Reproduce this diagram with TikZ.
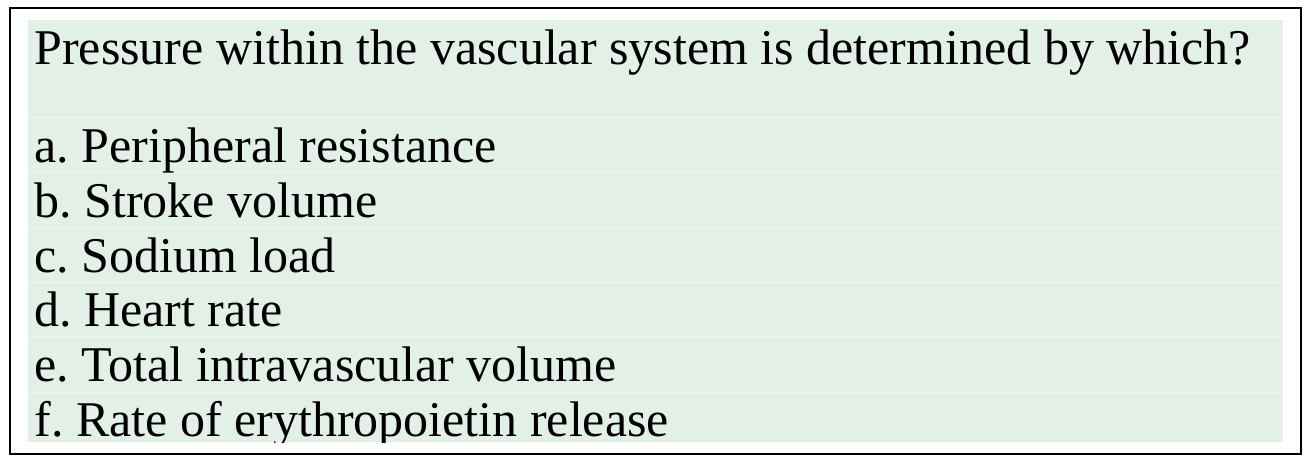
\documentclass[tikz,border=0pt]{standalone}
\usepackage{fontspec}
\setmainfont{Liberation Serif}
\frenchspacing
\definecolor{panel}{RGB}{226,240,231}
\definecolor{rule}{RGB}{236,245,239}
\begin{document}
\begin{tikzpicture}[x=0.5pt, y=-0.5pt,
        frame_style/.style={draw=black, line width=1pt},
        row_style/.style={draw=rule, line width=0.5pt},
        text_style/.style={anchor=base west, inner sep=0pt, font=\fontsize{25}{30}\selectfont}]

        \useasboundingbox (0,0) rectangle (1310,464);
        \draw [frame_style] (9.5,8.5) rectangle (1300.5,453.5);
        \fill [panel] (28,20) rectangle (1283,442);

        % faint row lines
        \foreach \y in {118,173,228,283,337,392}
            \draw [row_style] (28,\y) -- (1283,\y);

        \begin{scope}
        \clip (28,20) rectangle (1283,442);

        \node [text_style](q) at (34,65) {Pressure within the vascular system is determined by which?};

        \node [text_style](a) at (34,163) {a. Peripheral resistance};

        \node [text_style](b) at (34,218) {b. Stroke volume};

        \node [text_style](c) at (34,272.5) {c. Sodium load};

        \node [text_style](d) at (34,327) {d. Heart rate};

        \node [text_style](e) at (34,381.5) {e. Total intravascular volume};

        \node [text_style](f) at (34,436) {f. Rate of erythropoietin release};
        \end{scope}

        \end{tikzpicture}
\end{document}
